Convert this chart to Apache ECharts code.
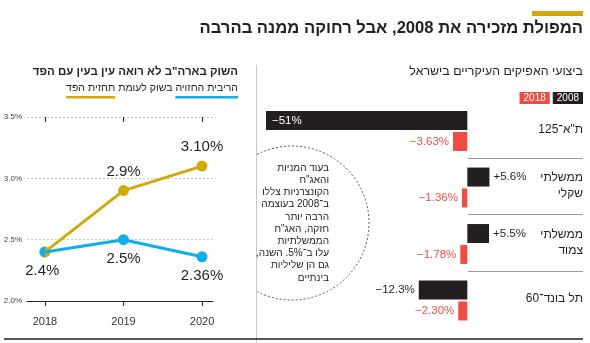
<!DOCTYPE html>
<html>
<head>
<meta charset="utf-8">
<script src="https://cdn.jsdelivr.net/npm/echarts@6/dist/echarts.min.js"></script>
<style>
  html, body { margin: 0; padding: 0; background: #fff; }
  #chart { width: 590px; height: 343px; }
</style>
</head>
<body>
<div id="chart"></div>
<script>
// Left panel: expected rate path, market vs. the Fed
const years = ['2018', '2019', '2020'];
const fedForecast = [2.4, 2.9, 3.10];
const fedDigits = [1, 1, 2];
const marketForecast = [2.4, 2.5, 2.36];
const marketDigits = [1, 1, 2];
const rateTicks = [2.0, 2.5, 3.0, 3.5];

// Right panel: main Israeli investment channels, 2008 vs. 2018
const channels = ['ת"א־125', 'ממשלתי\nשקלי', 'ממשלתי\nצמוד', 'תל בונד־60'];
const return2008 = [-51, 5.6, 5.5, -12.3];
const return2008Digits = [0, 1, 1, 1];
const return2018 = [-3.63, -1.36, -1.78, -2.30];
const return2018Digits = [2, 2, 2, 2];

const mainTitle = 'המפולת מזכירה את 2008, אבל רחוקה ממנה בהרבה';
const leftTitle = 'השוק בארה"ב לא רואה עין בעין עם הפד';
const leftSubParts = ['הריבית החזויה', ' בשוק לעומת ', 'תחזית הפד'];
const rightTitle = 'ביצועי האפיקים העיקריים בישראל';
const noteLines = [
  'בעוד המניות',
  'והאג"ח',
  'הקונצרניות צללו',
  'ב־2008 בעוצמה',
  'הרבה יותר',
  'חזקה, האג"ח',
  'הממשלתיות',
  'עלו ב־5%. השנה,\u200F',
  'גם הן שליליות',
  'בינתיים'
];

const GOLD = '#d4a80a';
const BLUE = '#12aee8';
const INK = '#231f20';
const RED = '#ef4d44';
const FONT = '"Liberation Sans", "DejaVu Sans", sans-serif';

const pct = (v, d, plus) => (v < 0 ? '\u2212' : (plus && v > 0 ? '+' : '')) + Math.abs(v).toFixed(d) + '%';

// text measuring for the underlined subtitle pieces
const mctx = document.createElement('canvas').getContext('2d');
function textWidth(t, size) {
  mctx.font = size + 'px ' + FONT;
  return mctx.measureText(t).width;
}

const SUB_SIZE = 10.5;
const subRight = 238;
const w0 = textWidth(leftSubParts[0], SUB_SIZE);
const w1 = textWidth(leftSubParts[1], SUB_SIZE);
const w2 = textWidth(leftSubParts[2], SUB_SIZE);

const chart = echarts.init(document.getElementById('chart'), null, { renderer: 'canvas' });

const halfDot = 'path://M10 0A10 10 0 0 0 10 20Z';

const option = {
  animation: false,
  textStyle: { fontFamily: FONT },
  grid: [
    { left: 27, right: 377, top: 117, height: 184 },
    { left: 266, right: 7, top: 102.75, height: 226 },
    { left: 468, right: 7, top: 101.25, height: 226 }
  ],
  legend: {
    right: 2,
    top: 87,
    itemWidth: 0,
    itemHeight: 11,
    itemGap: -2,
    icon: 'none',
    selectedMode: false,
    data: [
      { name: '2018', textStyle: { backgroundColor: RED } },
      { name: '2008', textStyle: { backgroundColor: INK } }
    ],
    textStyle: { color: '#fff', fontSize: 10, padding: [1, 4, 1, 4], fontFamily: FONT }
  },
  xAxis: [
    {
      gridIndex: 0, type: 'value', min: 2017.771, max: 2020.14,
      splitLine: { show: false },
      axisLine: { show: true, lineStyle: { color: INK, width: 1 } },
      axisTick: { show: true, length: 5, customValues: years.map(Number), lineStyle: { color: INK } },
      axisLabel: { customValues: years.map(Number), formatter: v => String(v), color: '#333', fontSize: 11, margin: 15 }
    },
    {
      gridIndex: 0, type: 'value', min: 2017.771, max: 2020.14,
      splitLine: { show: false },
      axisLine: { show: false },
      axisTick: { show: true, inside: true, length: 5, customValues: years.map(Number), lineStyle: { color: INK } },
      axisLabel: { show: false }
    },
    { gridIndex: 1, type: 'value', min: -51, max: 29.3, show: false },
    { gridIndex: 2, type: 'value', min: 0, max: 1, show: false }
  ],
  yAxis: [
    {
      gridIndex: 0, type: 'value', min: rateTicks[0], max: rateTicks[rateTicks.length - 1], interval: 0.5,
      axisLine: { show: false }, axisTick: { show: false },
      axisLabel: { formatter: v => v.toFixed(1) + '%', color: '#444', fontSize: 8, margin: 5 },
      splitLine: { show: true, showMinLine: false, lineStyle: { color: '#bdbdbd', width: 0.8, type: [2, 2] } }
    },
    { gridIndex: 1, type: 'category', inverse: true, data: channels, show: false },
    {
      gridIndex: 2, type: 'category', inverse: true, data: channels, position: 'right',
      axisLine: { show: false }, axisTick: { show: false },
      axisLabel: { inside: true, margin: 0, color: INK, fontSize: 12, lineHeight: 16, align: 'right' },
      splitLine: { show: true, showMinLine: false, showMaxLine: false, lineStyle: { color: '#9a9a9a', width: 1 } }
    }
  ],
  series: [
    {
      name: 'fed', type: 'line', xAxisIndex: 0, yAxisIndex: 0, z: 3,
      data: years.map((y, i) => [Number(y), fedForecast[i]]),
      lineStyle: { color: GOLD, width: 3 },
      itemStyle: { color: GOLD },
      symbol: 'circle', symbolSize: 11,
      label: {
        show: true, position: 'top', distance: 6, color: INK, fontSize: 15,
        formatter: p => p.dataIndex === 0 ? '' : pct(fedForecast[p.dataIndex], fedDigits[p.dataIndex])
      },
      emphasis: { disabled: true }, silent: true
    },
    {
      name: 'market', type: 'line', xAxisIndex: 0, yAxisIndex: 0, z: 4,
      data: years.map((y, i) => i === 0
        ? { value: [Number(y), marketForecast[i]], symbol: halfDot, symbolSize: [5.5, 11], symbolOffset: [-2.75, 0] }
        : [Number(y), marketForecast[i]]),
      lineStyle: { color: BLUE, width: 3 },
      itemStyle: { color: BLUE },
      symbol: 'circle', symbolSize: 11,
      label: {
        show: true, position: 'bottom', distance: 6, color: INK, fontSize: 15,
        formatter: p => pct(marketForecast[p.dataIndex], marketDigits[p.dataIndex])
      },
      emphasis: { disabled: true }, silent: true
    },
    {
      name: '2008', type: 'bar', xAxisIndex: 2, yAxisIndex: 1,
      barWidth: 19, barGap: '10%',
      itemStyle: { color: INK },
      data: return2008.map((v, i) => ({
        value: v,
        label: {
          show: true,
          position: v < 0 ? (v < -40 ? 'insideLeft' : 'left') : 'right',
          distance: v < -40 ? 6 : 4,
          color: v < -40 ? '#fff' : INK,
          fontSize: 11.5,
          formatter: () => pct(v, return2008Digits[i], true)
        }
      })),
      emphasis: { disabled: true }, silent: true
    },
    {
      name: '2018', type: 'bar', xAxisIndex: 2, yAxisIndex: 1,
      barWidth: 19, barGap: '10%',
      itemStyle: { color: RED },
      data: return2018.map((v, i) => ({
        value: v,
        label: {
          show: true, position: v < 0 ? 'left' : 'right', distance: 4,
          color: RED, fontSize: 11.5,
          formatter: () => pct(v, return2018Digits[i], true)
        }
      })),
      emphasis: { disabled: true }, silent: true
    }
  ],
  graphic: [
    { type: 'rect', shape: { x: 532, y: 11, width: 51, height: 5 }, style: { fill: GOLD } },
    { type: 'text', x: 583, y: 28, style: { text: mainTitle, align: 'right', verticalAlign: 'middle', fontSize: 16.6, fontWeight: 'bold', fontFamily: FONT, fill: INK } },

    { type: 'text', x: 238, y: 72, style: { text: leftTitle, align: 'right', verticalAlign: 'middle', fontSize: 11.5, fontWeight: 'bold', fontFamily: FONT, fill: INK } },
    { type: 'text', x: subRight, y: 88, style: { text: leftSubParts[0], align: 'right', verticalAlign: 'middle', fontSize: SUB_SIZE, fontFamily: FONT, fill: INK } },
    { type: 'text', x: subRight - w0, y: 88, style: { text: leftSubParts[1], align: 'right', verticalAlign: 'middle', fontSize: SUB_SIZE, fontFamily: FONT, fill: INK } },
    { type: 'text', x: subRight - w0 - w1, y: 88, style: { text: leftSubParts[2], align: 'right', verticalAlign: 'middle', fontSize: SUB_SIZE, fontFamily: FONT, fill: INK } },
    { type: 'rect', shape: { x: subRight - w0, y: 96, width: w0, height: 2.5 }, style: { fill: BLUE } },
    { type: 'rect', shape: { x: subRight - w0 - w1 - w2, y: 96, width: w2, height: 2.5 }, style: { fill: GOLD } },

    { type: 'text', x: 583, y: 72, style: { text: rightTitle, align: 'right', verticalAlign: 'middle', fontSize: 12.4, fontFamily: FONT, fill: INK } },

    { type: 'line', shape: { x1: 256.5, y1: 65, x2: 256.5, y2: 343 }, style: { stroke: '#c8c8c8', lineWidth: 1 } },
    { type: 'line', shape: { x1: 4, y1: 339, x2: 583, y2: 339 }, style: { stroke: INK, lineWidth: 1.5 } },

    { type: 'arc', shape: { cx: 292, cy: 223, r: 77, startAngle: -2.04, endAngle: 2.04, clockwise: true }, style: { stroke: '#555', lineWidth: 1, lineDash: [2, 2], fill: null } },
    { type: 'text', x: 329, y: 223, style: { text: noteLines.join('\n'), align: 'right', verticalAlign: 'middle', fontSize: 10, lineHeight: 12.2, fontFamily: FONT, fill: INK } }
  ]
};

chart.setOption(option);
</script>
</body>
</html>
